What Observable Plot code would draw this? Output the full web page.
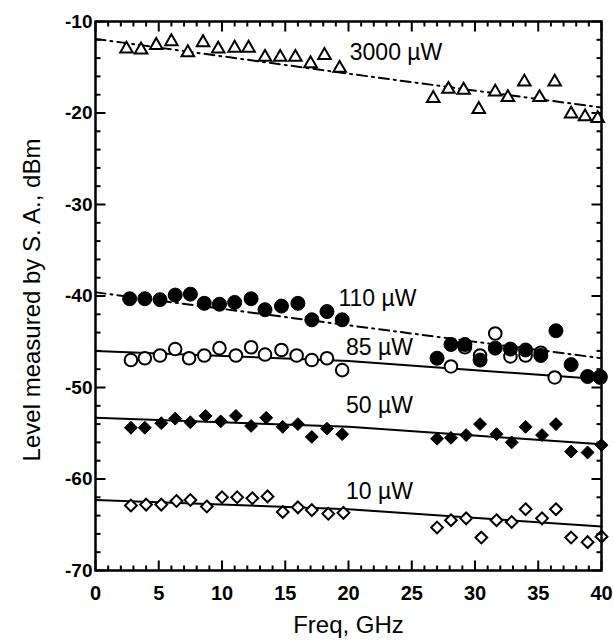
<!DOCTYPE html>
<html><head><meta charset="utf-8">
<script src="https://cdn.jsdelivr.net/npm/d3@7"></script>
<script src="https://cdn.jsdelivr.net/npm/@observablehq/plot@0.6"></script>
<style>
body{margin:0;background:#fff}
#wrap{position:relative;width:614px;height:642px}
#wrap svg{position:absolute;left:0;top:0}
</style>
</head><body><div id="wrap"></div>
<script>
// 3000 µW (open triangles)
const freq3000 = [2.45,3.6,4.8,6.0,7.3,8.5,9.7,11.0,12.1,13.4,14.6,15.8,17.0,18.1,19.3,26.7,27.9,29.1,30.3,31.6,32.6,33.9,35.1,36.3,37.6,38.7,39.7];
const level3000 = [-13.0,-13.1,-12.6,-12.2,-13.4,-12.3,-13.0,-12.9,-12.9,-13.9,-13.9,-13.9,-14.6,-13.7,-15.1,-18.4,-17.4,-17.5,-19.6,-17.7,-18.3,-16.6,-18.3,-16.6,-20.1,-20.4,-20.6];
// 110 µW (filled circles)
const freq110 = [2.7,3.9,5.1,6.3,7.5,8.6,9.8,11.0,12.3,13.4,14.7,16.0,17.1,18.3,19.5,27.0,28.1,29.2,30.4,31.6,32.8,34.0,35.2,36.4,37.6,38.9,39.9];
const level110 = [-40.3,-40.3,-40.4,-39.9,-39.8,-40.8,-40.9,-40.7,-40.3,-41.5,-41.1,-40.8,-42.6,-41.7,-42.6,-46.8,-45.3,-45.3,-47.0,-45.7,-45.8,-45.9,-46.5,-43.8,-47.5,-48.8,-48.9];
// 85 µW (open circles)
const freq85 = [2.8,3.9,5.1,6.3,7.4,8.6,9.8,11.1,12.3,13.4,14.7,15.9,17.1,18.3,19.5,28.1,29.2,30.4,31.6,32.8,34.0,35.2,36.3,39.9];
const level85 = [-47.0,-46.8,-46.5,-45.8,-46.8,-46.5,-45.7,-46.5,-45.6,-46.4,-45.9,-46.5,-47.0,-46.8,-48.1,-47.7,-45.6,-46.5,-44.1,-46.6,-46.5,-46.2,-48.9,-48.8];
// 50 µW (filled diamonds)
const freq50 = [2.8,3.9,5.2,6.3,7.5,8.7,9.9,11.1,12.3,13.5,14.8,16.0,17.1,18.3,19.5,27.0,28.1,29.3,30.4,31.7,32.9,34.0,35.3,36.4,37.6,38.9,40.0];
const level50 = [-54.4,-54.4,-53.9,-53.4,-53.8,-53.1,-53.7,-53.1,-54.2,-53.3,-54.3,-54.0,-55.4,-54.5,-55.1,-55.6,-55.5,-55.2,-54.0,-55.1,-56.0,-54.3,-55.2,-54.0,-57.0,-57.1,-56.3];
// 10 µW (open diamonds)
const freq10 = [2.8,4.0,5.2,6.4,7.5,8.8,10.0,11.2,12.4,13.6,14.8,16.0,17.1,18.4,19.6,27.0,28.1,29.3,30.5,31.7,32.9,34.0,35.3,36.4,37.6,38.9,40.0];
const level10 = [-62.9,-62.8,-62.8,-62.4,-62.3,-63.0,-62.0,-62.0,-62.1,-61.9,-63.6,-63.1,-63.4,-63.8,-63.7,-65.3,-64.5,-64.3,-66.4,-64.5,-64.7,-63.3,-64.3,-63.3,-66.4,-66.9,-66.3];
// fitted trend lines
const fitFreq = [0, 20, 40];
const fit3000 = [-11.9, -15.7, -19.4];
const fit110 = [-39.6, -43.2, -46.8];
const fit85 = [-46.0, -47.1, -49.1];
const fit50 = [-53.3, -54.3, -56.2];
const fit10 = [-62.3, -63.3, -65.2];
// series labels
const labelText = ["3000 µW", "110 µW", "85 µW", "50 µW", "10 µW"];
const labelFreq = [20.1, 19.2, 19.8, 19.8, 19.8];
const labelLevel = [-13.4, -40.3, -45.6, -52.0, -61.4];
// axis ticks
const xMajor = [0,5,10,15,20,25,30,35,40];
const xMinor = [1,2,3,4,6,7,8,9,11,12,13,14,16,17,18,19,21,22,23,24,26,27,28,29,31,32,33,34,36,37,38,39];
const yMajor = [-70,-60,-50,-40,-30,-20,-10];
const yMinor = [-68,-66,-64,-62,-58,-56,-54,-52,-48,-46,-44,-42,-38,-36,-34,-32,-28,-26,-24,-22,-18,-16,-14,-12];
const xTitle = "Freq, GHz";
const yTitle = "Level measured by S. A., dBm";

const xDomain = [0, 40], yDomain = [-70, -10];
const W = 614, H = 642, mL = 95, mR = 13, mT = 21, mB = 72;
const base = {
  width: W, height: H,
  marginLeft: mL, marginRight: mR, marginTop: mT, marginBottom: mB,
  x: {domain: xDomain, label: null},
  y: {domain: yDomain, label: null}
};
const font = "Liberation Sans, Arial, sans-serif";

// layer 1: data, fits and texts
const dataLayer = Plot.plot({
  ...base,
  x: {...base.x, axis: null},
  y: {...base.y, axis: null},
  style: {fontFamily: font, background: "#fff", color: "#000"},
  marks: [
    Plot.line(fitFreq, {x: fitFreq, y: fit3000, stroke: "black", strokeWidth: 2, strokeDasharray: "10,5,2,5"}),
    Plot.line(fitFreq, {x: fitFreq, y: fit110, stroke: "black", strokeWidth: 2, strokeDasharray: "10,5,2,5"}),
    Plot.line(fitFreq, {x: fitFreq, y: fit85, stroke: "black", strokeWidth: 2}),
    Plot.line(fitFreq, {x: fitFreq, y: fit50, stroke: "black", strokeWidth: 2}),
    Plot.line(fitFreq, {x: fitFreq, y: fit10, stroke: "black", strokeWidth: 2}),
    Plot.dot(level3000, {x: freq3000, y: level3000, symbol: "triangle2", r: 6, stroke: "black", fill: "white", strokeWidth: 2}),
    Plot.dot(level85, {x: freq85, y: level85, symbol: "circle", r: 6.3, stroke: "black", fill: "white", strokeWidth: 2}),
    Plot.dot(level110, {x: freq110, y: level110, symbol: "circle", r: 7, stroke: "black", fill: "black", strokeWidth: 1}),
    Plot.dot(level50, {x: freq50, y: level50, symbol: "diamond2", r: 5.8, stroke: "black", fill: "black", strokeWidth: 1}),
    Plot.dot(level10, {x: freq10, y: level10, symbol: "diamond2", r: 5.3, stroke: "black", fill: "white", strokeWidth: 2}),
    Plot.text(labelText, {x: labelFreq, y: labelLevel, text: labelText, textAnchor: "start", fontSize: 23, fill: "black"}),
    Plot.text([xTitle], {frameAnchor: "bottom", textAnchor: "middle", lineAnchor: "middle", dy: 55, fontSize: 24, fill: "black"}),
    Plot.text([yTitle], {frameAnchor: "left", textAnchor: "middle", lineAnchor: "middle", rotate: -90, dx: -63, dy: 4, fontSize: 24, fill: "black"})
  ]
});

// layer 2: frame, inward ticks on four sides, tick labels
const pxX = (xDomain[1] - xDomain[0]) / (W - mL - mR);
const pxY = (yDomain[1] - yDomain[0]) / (H - mT - mB);
const minorLen = 5, majorLen = 10;
const tickMarks = [];
const tickStyle = {stroke: "black", strokeWidth: 2};
for (const [vals, len] of [[xMinor, minorLen], [xMajor, majorLen]]) {
  tickMarks.push(Plot.link(vals, {x1: d => d, x2: d => d, y1: () => yDomain[0], y2: () => yDomain[0] + len * pxY, ...tickStyle}));
  tickMarks.push(Plot.link(vals, {x1: d => d, x2: d => d, y1: () => yDomain[1], y2: () => yDomain[1] - len * pxY, ...tickStyle}));
}
for (const [vals, len] of [[yMinor, minorLen], [yMajor, majorLen]]) {
  tickMarks.push(Plot.link(vals, {y1: d => d, y2: d => d, x1: () => xDomain[0], x2: () => xDomain[0] + len * pxX, ...tickStyle}));
  tickMarks.push(Plot.link(vals, {y1: d => d, y2: d => d, x1: () => xDomain[1], x2: () => xDomain[1] - len * pxX, ...tickStyle}));
}
const axisLayer = Plot.plot({
  ...base,
  style: {fontFamily: font, background: "transparent", color: "#000"},
  marks: [
    ...tickMarks,
    Plot.axisX({anchor: "bottom", ticks: xMajor, tickSize: 0, tickPadding: 15, tickFormat: d => String(d), fontSize: 20, fontWeight: "bold", label: null}),
    Plot.axisY({anchor: "left", ticks: yMajor, tickSize: 0, tickPadding: 3, tickFormat: d => String(d), fontSize: 19, fontWeight: "bold", label: null}),
    Plot.frame({stroke: "black", strokeWidth: 2.5})
  ]
});
const wrap = document.getElementById("wrap");
wrap.appendChild(dataLayer);
wrap.appendChild(axisLayer);
</script>
</body></html>
